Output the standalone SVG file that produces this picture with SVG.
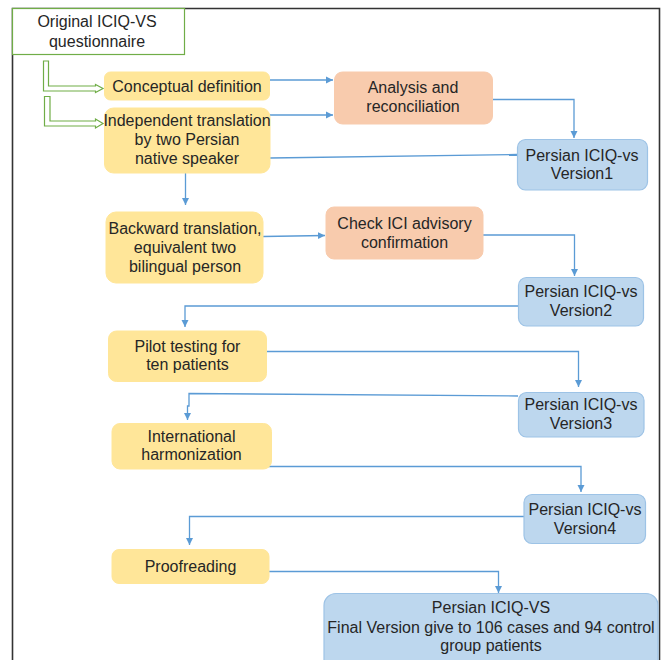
<svg xmlns="http://www.w3.org/2000/svg" width="662" height="660" viewBox="0 0 662 660">
<defs>
<marker id="ah" markerWidth="8" markerHeight="8" refX="7" refY="4" orient="auto" markerUnits="userSpaceOnUse">
<path d="M0,0.5 L7,4 L0,7.5 Z" fill="#5b9bd5"/>
</marker>
<style>
text{font-family:"Liberation Sans",Arial,sans-serif;font-size:16px;fill:#262626;text-anchor:middle;dominant-baseline:central}
.y{fill:#ffe699;stroke:#ffe699;stroke-width:1}
.o{fill:#f8cbad;stroke:#f8cbad;stroke-width:1}
.b{fill:#bdd7ee;stroke:#9dc3e6;stroke-width:1.2}
.c{fill:none;stroke:#5b9bd5;stroke-width:1.3}
.a{marker-end:url(#ah)}
.g{fill:#fff;stroke:#70ad47;stroke-width:1.2}
</style>
</defs>
<rect width="662" height="660" fill="#fff"/>
<g id="frame"><path d="M12.5,661 V8.5 H659.5 V661" fill="none" stroke="#333" stroke-width="1.6"/></g>

<g id="connectors">
<path class="g" d="M43.5,61 H48.5 V86 H95.5 V84.5 L103,88.5 L95.5,92.5 V91 H43.5 Z"/>
<path class="g" d="M44.5,96.5 H50 V121 H95.5 V119 L103,123.5 L95.5,128 V126 H44.5 Z"/>
<path class="c a" d="M270,80 H333"/>
<path class="c a" d="M270,115 H333"/>
<path class="c a" d="M492,99.5 H574 V138"/>
<path class="c" d="M270,158 L517,154.5"/>
<path class="c a" d="M185.5,173 V205"/>
<path class="c a" d="M263,236.5 L325,235.5"/>
<path class="c a" d="M483,235 H574.5 V276"/>
<path class="c a" d="M518,306 H185 V327"/>
<path class="c a" d="M267,351.5 H578.5 V387"/>
<path class="c a" d="M518,396 L189,393.5 V406 H187.5 V420"/>
<path class="c a" d="M267,466.5 H581 V492"/>
<path class="c a" d="M524,516.5 H189.5 V545"/>
<path class="c a" d="M269,571.5 H498.5 V593"/>
</g>

<g id="n_original"><rect class="g" x="12.5" y="8.5" width="172" height="46"/><text x="97" y="21">Original ICIQ-VS</text><text x="97" y="41">questionnaire</text></g>
<g id="n_conceptual"><rect class="y" x="104.5" y="72" width="165" height="28" rx="6"/><text x="187" y="86">Conceptual definition</text></g>
<g id="n_independent"><rect class="y" x="104.5" y="108" width="165.5" height="65" rx="9"/><text x="187" y="120.5">Independent translation</text><text x="187" y="139.5">by two Persian</text><text x="187" y="158.5">native speaker</text></g>
<g id="n_analysis"><rect class="o" x="334.5" y="72" width="158" height="52" rx="8"/><text x="413" y="87.5">Analysis and</text><text x="413" y="106">reconciliation</text></g>
<g id="n_v1"><rect class="b" x="517.5" y="139.5" width="130" height="50.5" rx="8"/><text x="582" y="155.5">Persian ICIQ-vs</text><text x="582" y="173.5">Version1</text></g>
<g id="n_backward"><rect class="y" x="106" y="212" width="157" height="71" rx="10"/><text x="185" y="228">Backward translation,</text><text x="185" y="247">equivalent two</text><text x="185" y="266">bilingual person</text></g>
<g id="n_check"><rect class="o" x="326" y="207" width="157" height="52" rx="8"/><text x="404.5" y="223">Check ICI advisory</text><text x="404.5" y="242">confirmation</text></g>
<g id="n_v2"><rect class="b" x="518.5" y="277.5" width="125" height="48.5" rx="8"/><text x="581" y="291">Persian ICIQ-vs</text><text x="581" y="310">Version2</text></g>
<g id="n_pilot"><rect class="y" x="108.5" y="331" width="158" height="50.5" rx="8"/><text x="187.5" y="346">Pilot testing for</text><text x="187.5" y="364.5">ten patients</text></g>
<g id="n_v3"><rect class="b" x="518.5" y="392.5" width="125.5" height="44.5" rx="8"/><text x="581" y="404.5">Persian ICIQ-vs</text><text x="581" y="423">Version3</text></g>
<g id="n_international"><rect class="y" x="112" y="423.5" width="159.5" height="45.5" rx="8"/><text x="191.5" y="436">International</text><text x="191.5" y="454.5">harmonization</text></g>
<g id="n_v4"><rect class="b" x="524" y="494.5" width="121.5" height="49" rx="8"/><text x="585" y="509.5">Persian ICIQ-vs</text><text x="585" y="528.5">Version4</text></g>
<g id="n_proof"><rect class="y" x="112" y="549.5" width="157" height="34" rx="7"/><text x="190.5" y="566">Proofreading</text></g>
<g id="n_final"><rect class="b" x="324" y="593.5" width="334" height="80" rx="12"/><text x="491" y="607.5">Persian ICIQ-VS</text><text x="491" y="627">Final Version give to 106 cases and 94 control</text><text x="491" y="645.5">group patients</text></g>
</svg>
